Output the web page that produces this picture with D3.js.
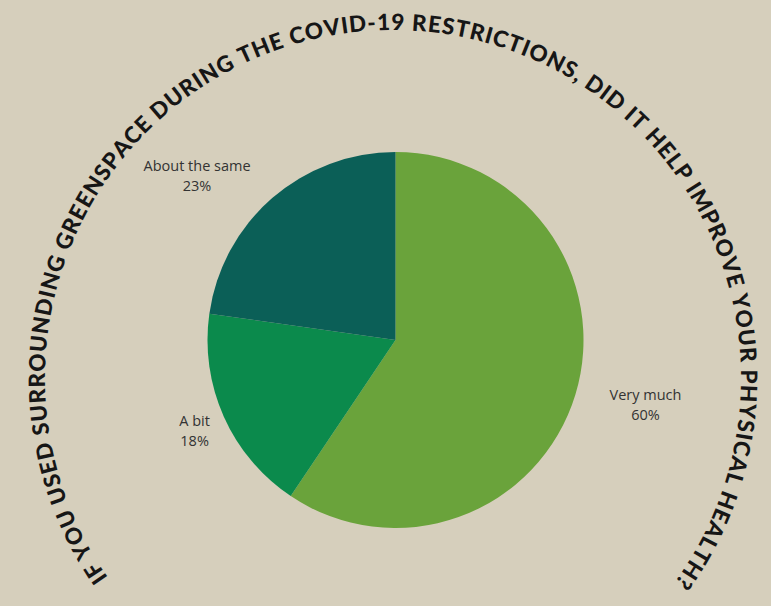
<!DOCTYPE html>
<html>
<head>
<meta charset="utf-8">
<script src="https://cdn.jsdelivr.net/npm/d3@7"></script>
<style>
  html, body { margin: 0; padding: 0; background: #d6cfbc; }
  svg { display: block; }
</style>
</head>
<body>
<svg id="chart" width="771" height="606"></svg>
<script>
// ---- data ----
const title = "IF YOU USED SURROUNDING GREENSPACE DURING THE COVID-19 RESTRICTIONS, DID IT HELP IMPROVE YOUR PHYSICAL HEALTH?";
const categories = ["Very much", "A bit", "About the same"];
const values = [60, 18, 23];
const valueLabels = ["60%", "18%", "23%"];
const colors = ["#6aa33b", "#0b8a4c", "#0b5f57"];

// ---- layout ----
const W = 771, H = 606;
const cx = 395.5, cy = 340, R = 188;
const titleCx = 393, titleCy = 378, titleR = 348;
const titleStart = -125, titleEnd = 126; // degrees, clockwise from 12 o'clock
// label placement (polar: radius and angle shift from slice mid-angle)
const labelRadius = [258, 220, 258];
const labelAngleShift = [-2.6, 0, -9.3];

const svg = d3.select("#chart");
svg.append("rect").attr("width", W).attr("height", H).attr("fill", "#d6cfbc");

// ---- pie ----
const pie = d3.pie().sort(null).value(d => d)(values);
const arc = d3.arc().innerRadius(0).outerRadius(R);
const g = svg.append("g").attr("transform", `translate(${cx},${cy})`);
g.selectAll("path.slice").data(pie).join("path")
  .attr("class", "slice")
  .attr("d", arc)
  .attr("fill", (d, i) => colors[i]);

// ---- labels ----
const lab = g.selectAll("text.lab").data(pie).join("text")
  .attr("class", "lab")
  .attr("text-anchor", "middle")
  .attr("font-family", "'Open Sans', sans-serif")
  .attr("font-size", 14.5)
  .attr("fill", "#333333")
  .attr("transform", (d, i) => {
    const a = (d.startAngle + d.endAngle) / 2 + labelAngleShift[i] * Math.PI / 180;
    const r = labelRadius[i];
    return `translate(${r * Math.sin(a)},${-r * Math.cos(a)})`;
  });
lab.append("tspan").attr("x", 0).attr("y", -4).text((d, i) => categories[i]);
lab.append("tspan").attr("x", 0).attr("y", 16).text((d, i) => valueLabels[i]);

// ---- curved title: one glyph per text element, spread along an arc ----
const a0 = titleStart * Math.PI / 180, a1 = titleEnd * Math.PI / 180;
const arcLen = titleR * (a1 - a0);
const titleFont = { family: "Lato, 'Open Sans', sans-serif", weight: 900, size: 22.5 };

const chars = Array.from(title);
const meas = svg.append("text")
  .attr("font-family", titleFont.family)
  .attr("font-weight", titleFont.weight)
  .attr("font-size", titleFont.size)
  .style("white-space", "pre");
const widths = chars.map(c => {
  meas.text(c === " " ? "\u00a0" : c);
  return meas.node().getComputedTextLength();
});
meas.remove();
const natural = d3.sum(widths);
const extra = (arcLen - natural) / (chars.length - 1);
let acc = 0;
const glyphs = chars.map((c, i) => {
  const s = acc + widths[i] / 2;
  acc += widths[i] + extra;
  return { c, s };
}).filter(d => d.c !== " ");

const tg = svg.append("g").attr("class", "title");
tg.selectAll("text").data(glyphs).join("text")
  .attr("font-family", titleFont.family)
  .attr("font-weight", titleFont.weight)
  .attr("font-size", titleFont.size)
  .attr("fill", "#161616")
  .attr("text-anchor", "middle")
  .attr("transform", d => {
    const th = a0 + d.s / titleR;
    const x = titleCx + titleR * Math.sin(th);
    const y = titleCy - titleR * Math.cos(th);
    return `translate(${x},${y}) rotate(${th * 180 / Math.PI})`;
  })
  .text(d => d.c);
</script>
</body>
</html>
